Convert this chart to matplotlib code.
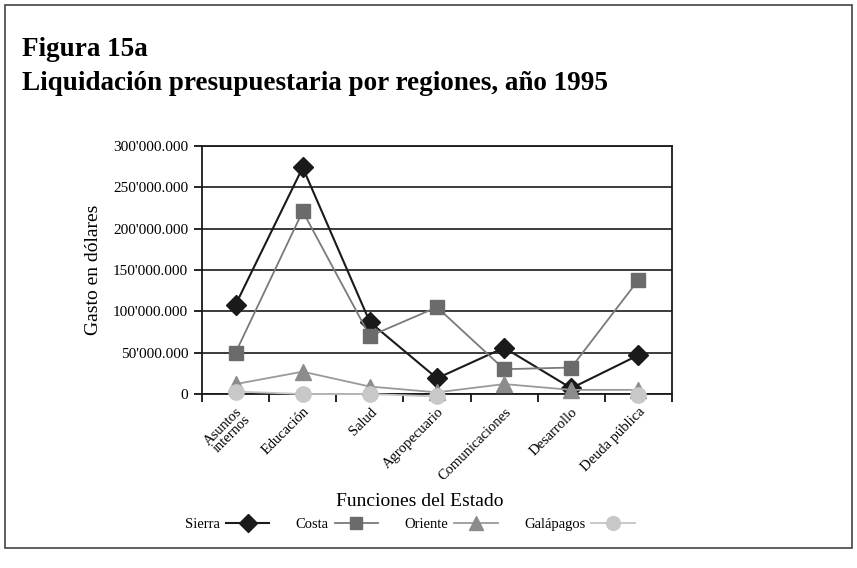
import numpy as np
import matplotlib
matplotlib.use("Agg")
import matplotlib.pyplot as plt
from matplotlib.patches import Rectangle

plt.rcParams["font.family"] = ["Liberation Serif", "DejaVu Serif"]

categorias = ["Asuntos\ninternos", "Educación", "Salud", "Agropecuario",
              "Comunicaciones", "Desarrollo", "Deuda pública"]
sierra = [108e6, 274e6, 87e6, 19e6, 56e6, 7e6, 47e6]
costa = [50e6, 221e6, 70e6, 105e6, 30e6, 32e6, 138e6]
oriente = [12e6, 27e6, 9e6, 2e6, 12e6, 5e6, 5e6]
galapagos = [3e6, 0, 0, -3e6, np.nan, np.nan, -1e6]
yticks = [0, 50e6, 100e6, 150e6, 200e6, 250e6, 300e6]
ytick_labels = ["0", "50'000.000", "100'000.000", "150'000.000",
                "200'000.000", "250'000.000", "300'000.000"]

fig = plt.figure(figsize=(8.57, 5.68), dpi=100)
fig.patches.append(Rectangle((5 / 857, 1 - 548 / 568), 847 / 857, 543 / 568,
                             transform=fig.transFigure, fill=False,
                             edgecolor="#444444", linewidth=1.2))

fig.text(22 / 857, 1 - 50 / 568, "Figura 15a", fontsize=19.5, fontweight="bold",
         va="center", ha="left")
fig.text(22 / 857, 1 - 83 / 568, "Liquidación presupuestaria por regiones, año 1995",
         fontsize=19.5, fontweight="bold", va="center", ha="left")

ax = fig.add_axes([202 / 857, 1 - 394 / 568, 470 / 857, 248 / 568])
x = np.arange(len(categorias))

# later series sit on top, as in the original
ax.plot(x, sierra, color="#1a1a1a", lw=1.5, marker="D", ms=10,
        mfc="#1a1a1a", mec="#1a1a1a", label="Sierra", zorder=3)
ax.plot(x, costa, color="#7a7a7a", lw=1.3, marker="s", ms=10,
        mfc="#6b6b6b", mec="#6b6b6b", label="Costa", zorder=4)
ax.plot(x, oriente, color="#9a9a9a", lw=1.3, marker="^", ms=11,
        mfc="#8c8c8c", mec="#8c8c8c", label="Oriente", zorder=5)
ax.plot(x, galapagos, color="#c4c4c4", lw=1.3, marker="o", ms=11,
        mfc="#c8c8c8", mec="#c8c8c8", label="Galápagos", zorder=6)

ax.set_xlim(-0.5, len(categorias) - 0.5)
ax.set_ylim(0, 300e6)
ax.set_yticks(yticks)
ax.set_yticklabels(ytick_labels, fontsize=11)
ax.yaxis.grid(True, color="#1a1a1a", lw=1.2)
ax.set_axisbelow(True)

ax.set_xticks(np.arange(len(categorias) + 1) - 0.5)
ax.set_xticklabels([])
ax.set_xticks(x, minor=True)
ax.set_xticklabels(categorias, minor=True, rotation=45, ha="right",
                   rotation_mode="anchor", fontsize=10.5, linespacing=0.8)
ax.tick_params(axis="x", which="minor", length=0, pad=8)
ax.tick_params(axis="x", which="major", length=6, width=1.2, direction="out")
ax.tick_params(axis="y", length=6, width=1.2, direction="out", pad=4)
for ln in ax.get_lines():
    ln.set_clip_on(False)

for side in ["left", "right", "bottom", "top"]:
    ax.spines[side].set_color("#1a1a1a")
    ax.spines[side].set_linewidth(1.3)

ax.set_ylabel("Gasto en dólares", fontsize=14, labelpad=8)
fig.text(420 / 857, 1 - 502 / 568, "Funciones del Estado", fontsize=14,
         ha="center", va="center")

handles, labels = ax.get_legend_handles_labels()
fig.legend(handles, labels,
           loc="center", bbox_to_anchor=(410 / 857, 1 - 524 / 568), ncol=4,
           frameon=False, markerfirst=False, fontsize=10.5, handlelength=3,
           columnspacing=1.8, handletextpad=0.4, markerscale=0.9)

fig.savefig("out.png", dpi=100)
